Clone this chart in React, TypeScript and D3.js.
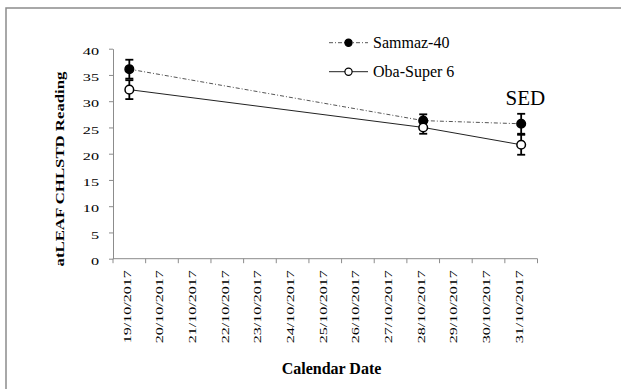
import React, { useEffect, useRef } from 'react';
import * as d3 from 'd3';

// every calendar day on the category axis
const dates = [
  '19/10/2017', '20/10/2017', '21/10/2017', '22/10/2017', '23/10/2017',
  '24/10/2017', '25/10/2017', '26/10/2017', '27/10/2017', '28/10/2017',
  '29/10/2017', '30/10/2017', '31/10/2017',
];

// days that were actually measured
const sampleDates = ['19/10/2017', '28/10/2017', '31/10/2017'];

const sammaz = [36.1, 26.3, 25.7];
const sammazErr = [1.8, 1.2, 1.9];
const oba = [32.2, 25.0, 21.7];
const obaErr = [1.8, 1.2, 1.9];

const yTicks = [0, 5, 10, 15, 20, 25, 30, 35, 40];

const FONT = "'Liberation Serif', 'Times New Roman', serif";

export default function App() {
  const svgRef = useRef<SVGSVGElement>(null);

  useEffect(() => {
    const svg = d3.select(svgRef.current);
    svg.selectAll('*').remove();

    const left = 113, right = 537.5, top = 48.7, bottom = 258.7;

    const x = d3.scaleBand().domain(dates).range([left, right]);
    const y = d3.scaleLinear().domain([0, 40]).range([bottom, top]);
    const cx = (d: string) => (x(d) as number) + x.bandwidth() / 2;

    // frame (only left and top edges are visible)
    svg.append('path')
      .attr('d', 'M6,389 L6,8 L621,8')
      .attr('fill', 'none')
      .attr('stroke', '#8c8c8c')
      .attr('stroke-width', 1.5);

    // y axis
    const yAxis = svg.append('g')
      .attr('transform', `translate(${left},0)`)
      .call(d3.axisLeft(y).tickValues(yTicks).tickSize(4).tickPadding(10).tickSizeOuter(0));
    yAxis.attr('font-family', null);
    yAxis.select('.domain').attr('stroke', '#8c8c8c');
    yAxis.selectAll('.tick line').attr('stroke', '#8c8c8c');
    yAxis.selectAll('.tick text')
      .style('font-family', FONT)
      .style('font-size', '10.5px')
      .attr('fill', '#000')
      .attr('dy', '0.55em')
      .attr('textLength', (d: any) => String(d).length * 8.1)
      .attr('lengthAdjust', 'spacingAndGlyphs');

    // x axis: ticks on the band edges
    const xAxis = svg.append('g').attr('transform', `translate(0,${bottom})`);
    xAxis.append('line')
      .attr('x1', left).attr('x2', right)
      .attr('stroke', '#8c8c8c');
    const edges = dates.map(d => x(d) as number).concat([right]);
    xAxis.selectAll('.xt')
      .data(edges)
      .enter()
      .append('line')
      .attr('x1', d => d).attr('x2', d => d)
      .attr('y1', 0).attr('y2', 4.5)
      .attr('stroke', '#8c8c8c');
    xAxis.selectAll('.xl')
      .data(dates)
      .enter()
      .append('text')
      .attr('transform', d => `translate(${cx(d) + 1.5},11.5) rotate(-90)`)
      .attr('text-anchor', 'end')
      .style('font-family', FONT)
      .style('font-size', '10.5px')
      .attr('textLength', 73)
      .attr('lengthAdjust', 'spacingAndGlyphs')
      .text(d => d);

    // axis titles
    svg.append('text')
      .attr('transform', 'translate(64,169) rotate(-90)')
      .attr('text-anchor', 'middle')
      .style('font-family', FONT)
      .style('font-weight', 'bold')
      .style('font-size', '13px')
      .attr('textLength', 195)
      .attr('lengthAdjust', 'spacingAndGlyphs')
      .text('atLEAF CHLSTD Reading');

    svg.append('text')
      .attr('x', 331.5)
      .attr('y', 374)
      .attr('text-anchor', 'middle')
      .style('font-family', FONT)
      .style('font-weight', 'bold')
      .style('font-size', '16px')
      .text('Calendar Date');

    const series = [
      { name: 'Sammaz-40', values: sammaz, err: sammazErr, fill: '#000', stroke: '#555', dash: '4,2,1,2' },
      { name: 'Oba-Super 6', values: oba, err: obaErr, fill: '#fff', stroke: '#222', dash: null },
    ];

    const line = d3.line<number>()
      .x((_, i) => cx(sampleDates[i]))
      .y(d => y(d));

    series.forEach(s => {
      svg.append('path')
        .datum(s.values)
        .attr('d', line)
        .attr('fill', 'none')
        .attr('stroke', s.stroke)
        .attr('stroke-width', 1)
        .attr('stroke-dasharray', s.dash);
    });

    // error bars
    series.forEach(s => {
      const g = svg.append('g').attr('stroke', '#000').attr('stroke-width', 1.8);
      s.values.forEach((v, i) => {
        const px = cx(sampleDates[i]);
        const y1 = y(v + s.err[i]);
        const y2 = y(v - s.err[i]);
        g.append('line').attr('x1', px).attr('x2', px).attr('y1', y1).attr('y2', y2);
        g.append('line').attr('x1', px - 4).attr('x2', px + 4).attr('y1', y1).attr('y2', y1);
        g.append('line').attr('x1', px - 4).attr('x2', px + 4).attr('y1', y2).attr('y2', y2);
      });
    });

    // markers
    series.forEach(s => {
      svg.selectAll(null)
        .data(s.values)
        .enter()
        .append('circle')
        .attr('cx', (_, i) => cx(sampleDates[i]))
        .attr('cy', d => y(d))
        .attr('r', 4.3)
        .attr('fill', s.fill)
        .attr('stroke', '#000')
        .attr('stroke-width', 1.5);
    });

    // SED label
    svg.append('text')
      .attr('x', 505.5)
      .attr('y', 105)
      .style('font-family', FONT)
      .style('font-size', '21px')
      .text('SED');

    // legend
    const legendY = [42.7, 71.7];
    series.forEach((s, i) => {
      const g = svg.append('g').attr('transform', `translate(329,${legendY[i]})`);
      g.append('line')
        .attr('x1', 0).attr('x2', 39)
        .attr('stroke', s.stroke)
        .attr('stroke-dasharray', s.dash);
      g.append('circle')
        .attr('cx', 19.5)
        .attr('r', 3.6)
        .attr('fill', s.fill)
        .attr('stroke', '#000')
        .attr('stroke-width', 1.2);
      g.append('text')
        .attr('x', 44)
        .attr('y', 5.5)
        .style('font-family', FONT)
        .style('font-size', '16px')
        .text(s.name);
    });
  }, []);

  return (
    <svg
      ref={svgRef}
      width={621}
      height={389}
      style={{ position: 'absolute', left: 0, top: 0, background: '#fff' }}
    />
  );
}
